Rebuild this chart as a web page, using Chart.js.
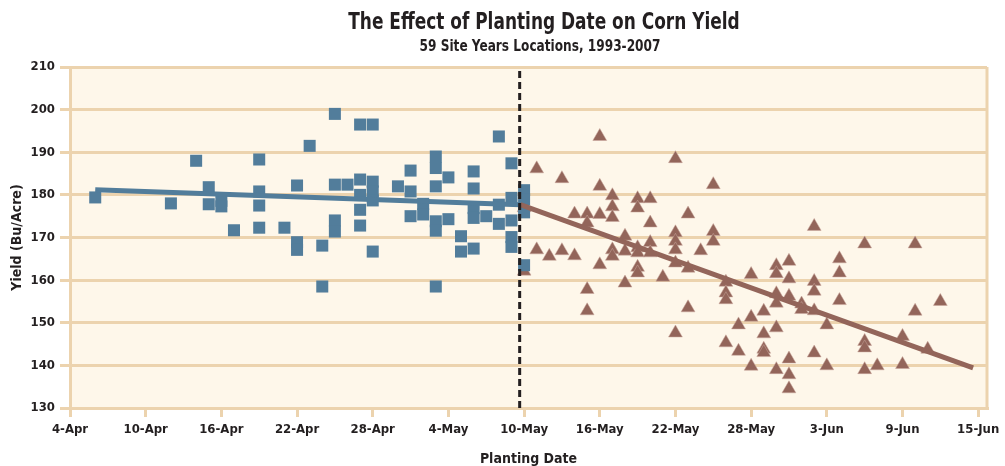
<!DOCTYPE html>
<html>
<head>
<meta charset="utf-8">
<script src="https://cdn.jsdelivr.net/npm/chart.js@4"></script>
<style>
  html, body { margin: 0; padding: 0; background: #fff; }
  #wrap { width: 1005px; height: 466px; }
</style>
</head>
<body>
<div id="wrap"><canvas id="yieldChart"></canvas></div>
<script>
// days counted from 4-Apr
const xTicks = [0, 6, 12, 18, 24, 30, 36, 42, 48, 54, 60, 66, 72];
const xTickLabels = ['4-Apr', '10-Apr', '16-Apr', '22-Apr', '28-Apr', '4-May', '10-May',
    '16-May', '22-May', '28-May', '3-Jun', '9-Jun', '15-Jun'];
const yTicks = [130, 140, 150, 160, 170, 180, 190, 200, 210];

// early planting (before 10-May)
const earlyDays = [2, 8, 10, 11, 11, 12, 12, 13, 15, 15, 15, 15, 17, 18, 18, 18, 19, 20, 20,
    21, 21, 21, 21, 22, 23, 23, 23, 23, 23, 24, 24, 24, 24, 24, 26, 27, 27, 27, 28, 28,
    29, 29, 29, 29, 29, 29, 30, 30, 31, 31, 32, 32, 32, 32, 32, 33, 34, 34, 34,
    35, 35, 35, 35, 35, 36, 36, 36, 36];
const earlyYield = [179.4, 178.0, 188.0, 181.8, 177.8, 178.6, 177.3, 171.7, 188.3, 180.8, 177.5, 172.3,
    172.3, 182.2, 168.9, 167.1, 191.5, 168.1, 158.5,
    199.0, 182.4, 174.0, 171.4, 182.4, 196.5, 183.6, 180.0, 176.5, 172.8, 196.5, 183.1, 180.8, 178.7, 166.7,
    182.0, 185.7, 180.8, 175.0, 177.9, 175.4,
    189.0, 186.3, 182.0, 173.8, 171.6, 158.5, 184.1, 174.3, 170.3, 166.7,
    185.5, 181.5, 176.9, 174.6, 167.4, 175.0, 177.7, 173.2, 193.7,
    187.4, 179.3, 174.0, 170.1, 167.8, 181.1, 178.9, 175.9, 163.5];

// late planting (10-May and after)
const lateDays = [36, 36, 37, 37, 38, 39, 39, 40, 40, 41, 41, 41, 41, 42, 42, 42, 42,
    43, 43, 43, 43, 43, 44, 44, 44, 45, 45, 45, 45, 45, 45, 46, 46, 46, 46, 47,
    48, 48, 48, 48, 48, 48, 49, 49, 49, 50, 51, 51, 51, 52, 52, 52, 52, 53, 53,
    54, 54, 54, 55, 55, 55, 55, 56, 56, 56, 56, 56, 56, 57, 57, 57, 57, 57, 57,
    58, 58, 59, 59, 59, 59, 59, 60, 60, 61, 61, 61, 63, 63, 63, 63, 64, 66, 66, 67, 67, 68, 69];
const lateYield = [162.1, 177.0, 186.1, 167.1, 165.6, 183.8, 166.9, 175.5, 165.7, 175.5, 173.4, 157.8, 152.8,
    193.7, 182.0, 175.4, 163.6,
    179.8, 177.2, 174.7, 167.1, 165.6, 166.8, 170.3, 159.3, 179.1, 176.9, 167.6, 166.4, 163.0, 161.7,
    179.1, 173.4, 168.8, 166.4, 160.7,
    188.5, 171.1, 169.1, 167.1, 164.0, 147.6, 175.5, 162.8, 153.5, 166.9, 182.4, 171.4, 169.1,
    159.5, 157.0, 155.4, 145.3, 149.5, 143.3,
    161.3, 151.3, 139.8, 152.7, 147.4, 143.8, 143.0, 163.4, 161.5, 156.8, 154.6, 148.8, 139.0,
    164.4, 160.3, 156.2, 141.5, 137.8, 134.5,
    154.4, 153.1, 172.6, 159.7, 157.4, 152.8, 142.9, 149.5, 139.9, 165.0, 161.7, 155.2,
    168.5, 145.6, 144.1, 139.0, 139.9, 146.8, 140.2, 168.5, 152.7, 143.8, 155.0];

// trend lines and cut-off
const earlyTrendDays = [2, 35.7];
const earlyTrendYield = [181.2, 177.7];
const lateTrendDays = [35.7, 71.6];
const lateTrendYield = [177.7, 139.4];
const cutoffDay = 35.65;

const toPoints = (xs, ys) => xs.map((x, i) => ({ x: x, y: ys[i] }));

const BLUE = '#527d9b';
const BROWN = '#93655a';
const GRID = '#ecd3ae';
const INK = '#231f20';
const FONT = '"Liberation Sans Narrow", "DejaVu Sans Condensed", sans-serif';

// squeezed heading text, the original uses a condensed face
function narrowText(ctx, text, x, y, squeeze) {
    ctx.save();
    ctx.translate(x, y);
    ctx.scale(squeeze, 1);
    ctx.fillText(text, 0, 0);
    ctx.restore();
}

const plotFrame = {
    id: 'plotFrame',
    beforeDraw(chart) {
        const { ctx, chartArea: a } = chart;
        ctx.save();
        ctx.fillStyle = '#fef7ea';
        ctx.fillRect(a.left, a.top, a.right - a.left, a.bottom - a.top);
        ctx.restore();
    },
    afterDatasetsDraw(chart) {
        const { ctx, chartArea: a } = chart;
        ctx.save();
        ctx.strokeStyle = GRID;
        ctx.lineWidth = 3;
        ctx.beginPath();
        ctx.moveTo(a.right, a.top);
        ctx.lineTo(a.right, a.bottom);
        ctx.stroke();
        ctx.restore();
    },
    afterDraw(chart) {
        const ctx = chart.ctx;
        ctx.save();
        ctx.fillStyle = INK;
        ctx.textAlign = 'center';
        ctx.textBaseline = 'middle';
        ctx.font = 'bold 23px ' + FONT;
        narrowText(ctx, 'The Effect of Planting Date on Corn Yield', 544, 23, 0.82);
        ctx.font = 'bold 15px ' + FONT;
        narrowText(ctx, '59 Site Years Locations, 1993-2007', 540, 47, 0.9);
        ctx.restore();
    }
};

new Chart(document.getElementById('yieldChart').getContext('2d'), {
    type: 'scatter',
    data: {
        datasets: [{
            type: 'line',
            data: [{ x: cutoffDay, y: 130 }, { x: cutoffDay, y: 210 }],
            borderColor: INK,
            borderWidth: 3,
            borderDash: [7, 4],
            pointRadius: 0,
            order: 0
        }, {
            type: 'line',
            data: toPoints(earlyTrendDays, earlyTrendYield),
            borderColor: BLUE,
            borderWidth: 5,
            pointRadius: 0,
            order: 1
        }, {
            type: 'line',
            data: toPoints(lateTrendDays, lateTrendYield),
            borderColor: BROWN,
            borderWidth: 5,
            pointRadius: 0,
            order: 1
        }, {
            data: toPoints(earlyDays, earlyYield),
            pointStyle: 'rect',
            pointRadius: 8.5,
            backgroundColor: BLUE,
            borderWidth: 0,
            order: 2
        }, {
            data: toPoints(lateDays, lateYield),
            pointStyle: 'triangle',
            pointRadius: 8,
            backgroundColor: BROWN,
            borderColor: '#c9a79c',
            borderWidth: 0.5,
            order: 3
        }]
    },
    options: {
        responsive: true,
        maintainAspectRatio: false,
        animation: false,
        layout: { padding: { top: 67, right: 18, left: 0, bottom: 0 } },
        plugins: {
            legend: { display: false },
            tooltip: { enabled: false }
        },
        scales: {
            x: {
                type: 'linear',
                min: 0,
                max: 72.7,
                afterBuildTicks: (scale) => { scale.ticks = xTicks.map(v => ({ value: v })); },
                afterFit: (scale) => { scale.height = 58; },
                grid: { drawOnChartArea: false, color: GRID, lineWidth: 3, tickLength: 9 },
                border: { color: GRID, width: 3 },
                ticks: {
                    color: INK,
                    font: { family: FONT, size: 13, weight: 'bold' },
                    padding: 5,
                    maxRotation: 0,
                    callback: (v) => xTickLabels[xTicks.indexOf(v)]
                },
                title: {
                    display: true,
                    text: 'Planting Date',
                    color: INK,
                    font: { family: FONT, size: 14, weight: 'bold' },
                    padding: { top: 0, bottom: -2 }
                }
            },
            y: {
                min: 130,
                max: 210,
                afterBuildTicks: (scale) => { scale.ticks = yTicks.map(v => ({ value: v })); },
                afterFit: (scale) => { scale.width = 70; },
                grid: { color: GRID, lineWidth: 3, tickLength: 10 },
                border: { color: GRID, width: 3 },
                ticks: {
                    color: INK,
                    font: { family: FONT, size: 13, weight: 'bold' },
                    padding: 5
                },
                title: {
                    display: true,
                    text: 'Yield (Bu/Acre)',
                    color: INK,
                    font: { family: FONT, size: 14, weight: 'bold' },
                    padding: { top: 9, bottom: 0 }
                }
            }
        }
    },
    plugins: [plotFrame]
});
</script>
</body>
</html>
